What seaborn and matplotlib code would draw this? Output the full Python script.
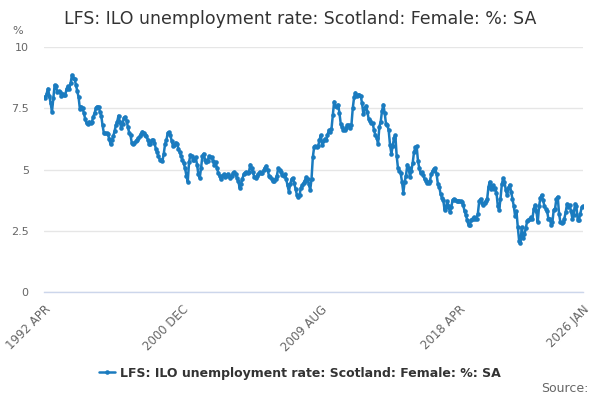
import numpy as np
import pandas as pd
import matplotlib
matplotlib.use("Agg")
import matplotlib.pyplot as plt
import seaborn as sns

# ---- data: monthly values, 1992 APR .. 2026 JAN ----
y1992 = [7.95, 7.9, 8.1, 8.3, 8.0, 7.7, 7.36, 7.9, 8.45]
y1993 = [8.4, 8.15, 8.2, 8.15, 8.0, 8.1, 8.05, 8.05, 8.3, 8.4, 8.3, 8.52]
y1994 = [8.86, 8.75, 8.7, 8.45, 8.2, 7.95, 7.45, 7.57, 7.5, 7.29, 7.05, 6.88]
y1995 = [6.85, 6.95, 6.9, 6.95, 7.15, 7.3, 7.5, 7.57, 7.57, 7.35, 7.2, 6.8]
y1996 = [6.48, 6.47, 6.47, 6.46, 6.25, 6.03, 6.2, 6.35, 6.56, 6.8, 6.95, 7.2]
y1997 = [6.95, 6.7, 6.85, 7.1, 7.15, 7.0, 6.75, 6.5, 6.4, 6.07, 6.05, 6.1]
y1998 = [6.15, 6.2, 6.3, 6.35, 6.45, 6.55, 6.5, 6.4, 6.38, 6.2, 6.03, 6.05]
y1999 = [6.2, 6.2, 6.1, 5.85, 5.7, 5.55, 5.4, 5.38, 5.35, 5.65, 6.05, 6.2]
y2000 = [6.5, 6.52, 6.4, 6.15, 5.95, 6.0, 6.1, 6.05, 5.85, 5.7, 5.55, 5.4]
y2001 = [5.25, 5.05, 4.75, 4.5, 5.3, 5.6, 5.55, 5.4, 5.4, 5.5, 5.2, 4.8]
y2002 = [4.65, 5.05, 5.55, 5.65, 5.4, 5.3, 5.35, 5.55, 5.5, 5.5, 5.35, 5.2]
y2003 = [5.3, 5.05, 4.85, 4.72, 4.6, 4.75, 4.8, 4.7, 4.75, 4.82, 4.75, 4.65]
y2004 = [4.72, 4.85, 4.9, 4.8, 4.65, 4.53, 4.25, 4.4, 4.6, 4.8, 4.86, 4.9]
y2005 = [4.85, 4.9, 5.2, 5.05, 4.88, 4.7, 4.65, 4.72, 4.82, 4.9, 4.85, 4.85]
y2006 = [4.97, 5.08, 5.15, 5.0, 4.75, 4.68, 4.62, 4.52, 4.55, 4.62, 4.75, 5.05]
y2007 = [5.0, 4.9, 4.78, 4.75, 4.8, 4.6, 4.35, 4.1, 4.4, 4.6, 4.65, 4.45]
y2008 = [4.2, 3.97, 3.86, 3.95, 4.25, 4.35, 4.45, 4.55, 4.69, 4.6, 4.4, 4.16]
y2009 = [4.6, 5.5, 5.93, 5.95, 5.92, 5.96, 6.2, 6.4, 6.0, 6.15, 6.25, 6.2]
y2010 = [6.4, 6.6, 6.55, 6.65, 7.22, 7.77, 7.6, 7.55, 7.65, 7.3, 6.85, 6.72]
y2011 = [6.6, 6.6, 6.7, 6.82, 6.82, 6.7, 6.82, 7.5, 7.95, 8.14, 8.0, 8.04]
y2012 = [8.05, 8.0, 7.7, 7.25, 7.5, 7.6, 7.35, 7.05, 6.96, 6.9, 6.88, 6.6]
y2013 = [6.4, 6.3, 6.05, 6.75, 6.95, 7.4, 7.65, 7.3, 6.85, 6.82, 6.6, 6.0]
y2014 = [5.65, 5.95, 6.3, 6.4, 5.55, 5.05, 4.95, 4.85, 4.5, 4.06, 4.5, 4.75]
y2015 = [5.2, 5.05, 4.7, 4.95, 5.25, 5.7, 5.9, 5.95, 5.35, 5.05, 4.85, 4.9]
y2016 = [4.76, 4.6, 4.55, 4.45, 4.45, 4.55, 4.8, 4.95, 5.02, 5.05, 4.8, 4.4]
y2017 = [4.3, 4.0, 3.85, 3.75, 3.35, 3.45, 3.7, 3.5, 3.25, 3.45, 3.75, 3.8]
y2018 = [3.75, 3.7, 3.7, 3.72, 3.7, 3.68, 3.55, 3.3, 3.15, 2.92, 2.73, 2.75]
y2019 = [2.95, 3.0, 3.05, 2.98, 3.0, 3.2, 3.7, 3.8, 3.65, 3.57, 3.65, 3.7]
y2020 = [3.8, 4.3, 4.5, 4.2, 4.35, 4.2, 4.25, 4.05, 3.5, 3.35, 3.8, 4.4]
y2021 = [4.65, 4.5, 4.15, 3.95, 4.25, 4.38, 4.1, 3.8, 3.5, 3.1, 3.3, 2.65]
y2022 = [2.1, 2.0, 2.65, 2.2, 2.35, 2.6, 2.88, 2.95, 3.0, 3.05, 3.0, 3.4]
y2023 = [3.55, 3.3, 2.85, 3.5, 3.85, 3.96, 3.75, 3.5, 3.4, 3.3, 3.0, 3.0]
y2024 = [2.75, 2.85, 3.35, 3.4, 3.8, 3.89, 3.2, 2.85, 2.8, 2.85, 3.0, 3.25]
y2025 = [3.6, 3.45, 3.55, 3.3, 3.0, 3.15, 3.6, 3.5, 2.95, 2.95, 3.2, 3.45]
y2026 = [3.5]

yearly = [y1992, y1993, y1994, y1995, y1996, y1997, y1998, y1999, y2000,
          y2001, y2002, y2003, y2004, y2005, y2006, y2007, y2008, y2009,
          y2010, y2011, y2012, y2013, y2014, y2015, y2016, y2017, y2018,
          y2019, y2020, y2021, y2022, y2023, y2024, y2025, y2026]
values = [v for yr in yearly for v in yr]

periods = pd.period_range("1992-04", periods=len(values), freq="M")
labelled_months = ["1992-04", "2000-12", "2009-08", "2018-04", "2026-01"]
y_ticks = [0, 2.5, 5, 7.5, 10]
y_tick_labels = ["0", "2.5", "5", "7.5", "10"]

title = "LFS: ILO unemployment rate: Scotland: Female: %: SA"
series_name = "LFS: ILO unemployment rate: Scotland: Female: %: SA"

df = pd.DataFrame({"idx": np.arange(len(values)), "value": values})

sns.set_theme(style="white")
plt.rcParams["font.family"] = ["DejaVu Sans"]

BLUE = "#1a7bbf"
fig = plt.figure(figsize=(6, 4), dpi=100)
ax = fig.add_axes([44 / 600, 1 - 292 / 400, (583 - 44) / 600, (292 - 47) / 400])

sns.lineplot(data=df, x="idx", y="value", ax=ax, color=BLUE, linewidth=1.8,
             marker="o", markersize=3.3, markeredgewidth=0, label=series_name)

n = len(values)
ax.set_xlim(0, n - 1)
ax.set_ylim(0, 10)
ax.set_yticks(y_ticks)
ax.set_yticklabels(y_tick_labels)
ax.grid(axis="y", color="#e6e6e6", linewidth=1)
ax.grid(axis="x", visible=False)
ax.set_xlabel("")
ax.set_ylabel("")

# x ticks every 26 months plus last point
period_list = list(periods.strftime("%Y-%m"))
label_idx = {period_list.index(p): pd.Period(p, "M").strftime("%Y %b").upper() for p in labelled_months}
tick_pos = sorted(set(list(range(0, n, 26)) + [n - 1]))
ax.set_xticks(tick_pos)
ax.set_xticklabels([label_idx.get(t, "") for t in tick_pos], rotation=45, ha="right",
                   rotation_mode="anchor", fontsize=8.5, color="#666666")
ax.tick_params(axis="x", direction="out", length=5, width=1, color="#ccd6eb", pad=3)
ax.tick_params(axis="y", length=0, pad=11, labelsize=8, labelcolor="#666666")

for s in ["top", "right", "left"]:
    ax.spines[s].set_visible(False)
ax.spines["bottom"].set_color("#ccd6eb")
ax.spines["bottom"].set_linewidth(1)

fig.text(0.5, 1 - 19 / 400, title, ha="center", va="center", fontsize=12.5, color="#333333")
fig.text(18 / 600, 1 - 31 / 400, "%", ha="center", va="center", fontsize=8, color="#666666")
fig.text(589 / 600, 1 - 389 / 400, "Source:", ha="right", va="center", fontsize=9, color="#666666")

leg = ax.legend(loc="center", bbox_to_anchor=(0.5, 1 - 373 / 400), bbox_transform=fig.transFigure,
                frameon=False, handlelength=1.3, handletextpad=0.4,
                prop={"weight": "bold", "size": 9})
for t in leg.get_texts():
    t.set_color("#333333")

fig.savefig("out.png", dpi=100)
